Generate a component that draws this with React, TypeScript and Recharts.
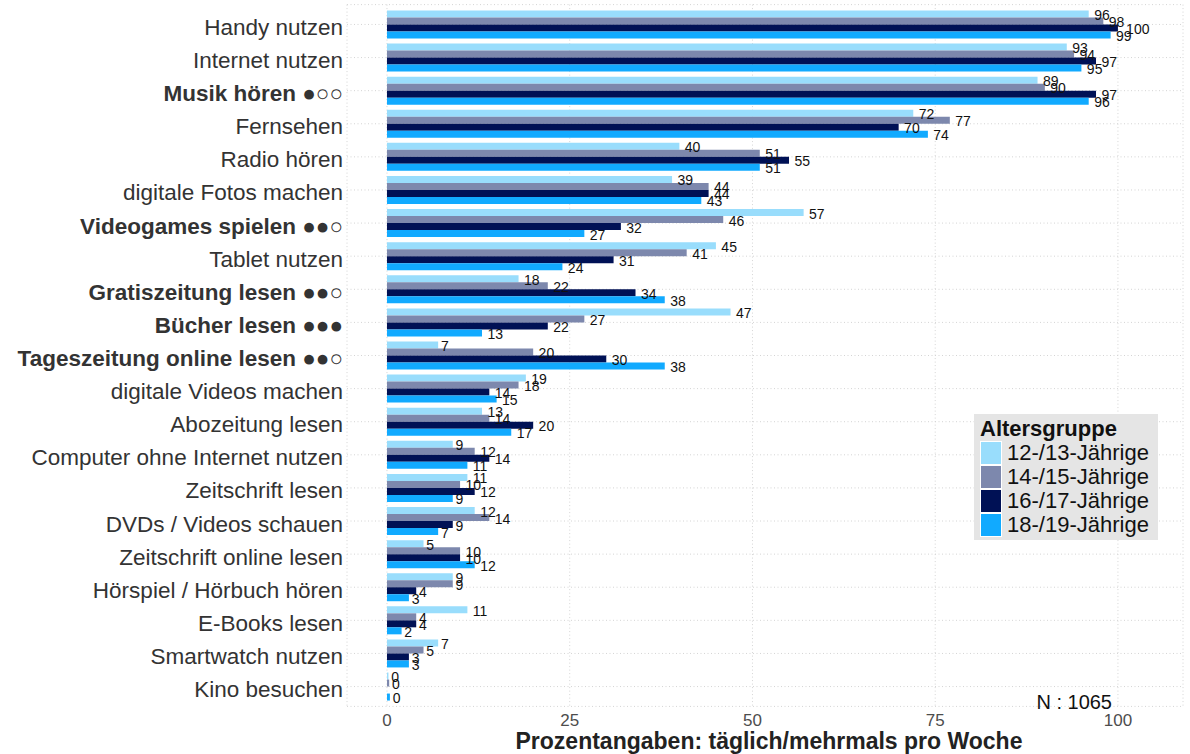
import React from 'react';
import { BarChart, Bar, XAxis, YAxis, CartesianGrid, LabelList } from 'recharts';

const categories = [
  'Handy nutzen',
  'Internet nutzen',
  'Musik hören ●○○',
  'Fernsehen',
  'Radio hören',
  'digitale Fotos machen',
  'Videogames spielen ●●○',
  'Tablet nutzen',
  'Gratiszeitung lesen ●●○',
  'Bücher lesen ●●●',
  'Tageszeitung online lesen ●●○',
  'digitale Videos machen',
  'Abozeitung lesen',
  'Computer ohne Internet nutzen',
  'Zeitschrift lesen',
  'DVDs / Videos schauen',
  'Zeitschrift online lesen',
  'Hörspiel / Hörbuch hören',
  'E-Books lesen',
  'Smartwatch nutzen',
  'Kino besuchen',
];

const age12 = [96, 93, 89, 72, 40, 39, 57, 45, 18, 47, 7, 19, 13, 9, 11, 12, 5, 9, 11, 7, 0.2];
const age14 = [98, 94, 90, 77, 51, 44, 46, 41, 22, 27, 20, 18, 14, 12, 10, 14, 10, 9, 4, 5, 0.3];
const age16 = [100, 97, 97, 70, 55, 44, 32, 31, 34, 22, 30, 14, 20, 14, 12, 9, 10, 4, 4, 3, 0];
const age18 = [99, 95, 96, 74, 51, 43, 27, 24, 38, 13, 38, 15, 17, 11, 9, 7, 12, 3, 2, 3, 0.4];

const seriesNames = ['12-/13-Jährige', '14-/15-Jährige', '16-/17-Jährige', '18-/19-Jährige'];
const seriesKeys = ['a12', 'a14', 'a16', 'a18'];
const seriesColors = ['#99DDFC', '#7D88AD', '#001155', '#11AAFF'];
const xTicks = [0, 25, 50, 75, 100];
const axisTitle = 'Prozentangaben: täglich/mehrmals pro Woche';
const legendTitle = 'Altersgruppe';
const sampleNote = 'N : 1065';

const FONT = '"Liberation Sans", Arial, Helvetica, sans-serif';

const data = categories.map((name, i) => ({
  name,
  a12: age12[i],
  a14: age14[i],
  a16: age16[i],
  a18: age18[i],
}));

const YTick = (props: any) => {
  const { x, y, payload } = props;
  const bold = String(payload.value).includes('●');
  return (
    <text
      x={x}
      y={y + 10.5}
      textAnchor="end"
      fontSize={22.5}
      fontFamily={FONT}
      fontWeight={bold ? 'bold' : 'normal'}
      fill="#333333"
    >
      {payload.value}
    </text>
  );
};

const XTick = (props: any) => {
  const { x, y, payload } = props;
  return (
    <text x={x} y={y + 20} textAnchor="middle" fontSize={17} fontFamily={FONT} fill="#4D4D4D">
      {payload.value}
    </text>
  );
};

const XTitle = (props: any) => {
  const { viewBox } = props;
  if (!viewBox) return null;
  return (
    <text
      x={viewBox.x + viewBox.width / 2 + 4}
      y={viewBox.y + viewBox.height - 4.6}
      textAnchor="middle"
      fontSize={23}
      fontWeight="bold"
      fontFamily={FONT}
      fill="#222222"
    >
      {axisTitle}
    </text>
  );
};

const ValueLabel = (props: any) => {
  const { x, y, width, height, value } = props;
  const txt = String(Math.round(Number(value)));
  const w = txt.length * 0.556 * 14;
  return (
    <text
      x={x + width + 0.35 * w}
      y={y + height / 2 + 6}
      textAnchor="start"
      fontSize={14}
      fontFamily={FONT}
      fill="#111111"
    >
      {txt}
    </text>
  );
};

const LegendBox = () => (
  <div
    style={{
      position: 'absolute',
      left: 974,
      top: 414,
      width: 172,
      background: '#E5E5E5',
      padding: '3px 6px 3px 6px',
      fontFamily: FONT,
      whiteSpace: 'nowrap',
    }}
  >
    <div style={{ fontSize: 22, fontWeight: 'bold', lineHeight: '24px', color: '#111' }}>{legendTitle}</div>
    {seriesNames.map((name, i) => (
      <div key={name} style={{ display: 'flex', alignItems: 'center', height: 24 }}>
        <div
          style={{
            width: 20,
            height: 22,
            flex: '0 0 auto',
            background: seriesColors[i],
            border: '1px solid #ffffff',
            marginRight: 5,
            boxSizing: 'content-box',
          }}
        />
        <span style={{ fontSize: 22, lineHeight: '24px', color: '#111', whiteSpace: 'nowrap' }}>{name}</span>
      </div>
    ))}
  </div>
);

export default function App() {
  return (
    <div style={{ position: 'absolute', left: 0, top: 0, width: 1190, height: 754, background: '#fff' }}>
      <BarChart
        width={1190}
        height={754}
        data={data}
        layout="vertical"
        margin={{ top: 4.6, right: 7, bottom: 0, left: 0 }}
        barCategoryGap="7.7%"
        barGap={0}
      >
        <CartesianGrid stroke="#D4D4D4" strokeDasharray="1 2.5" />
        <XAxis
          type="number"
          domain={[-5.47, 108.9]}
          allowDataOverflow
          ticks={xTicks}
          tickLine={false}
          axisLine={false}
          tickSize={0}
          tickMargin={0}
          height={47.6}
          tick={<XTick />}
          label={<XTitle />}
        />
        <YAxis
          type="category"
          dataKey="name"
          width={347}
          tickLine={false}
          axisLine={false}
          tickSize={0}
          tickMargin={4}
          interval={0}
          padding={{ top: 3.3, bottom: 3.3 }}
          tick={<YTick />}
        />
        {seriesKeys.map((k, i) => (
          <Bar key={k} dataKey={k} name={seriesNames[i]} fill={seriesColors[i]} isAnimationActive={false}>
            <LabelList dataKey={k} content={<ValueLabel />} />
          </Bar>
        ))}
      </BarChart>
      <LegendBox />
      <svg
        width={1190}
        height={754}
        style={{ position: 'absolute', left: 0, top: 0, pointerEvents: 'none' }}
      >
        <text x={1112} y={709} textAnchor="end" fontSize={20} fontFamily={FONT} fill="#111">
          {sampleNote}
        </text>
      </svg>
    </div>
  );
}
